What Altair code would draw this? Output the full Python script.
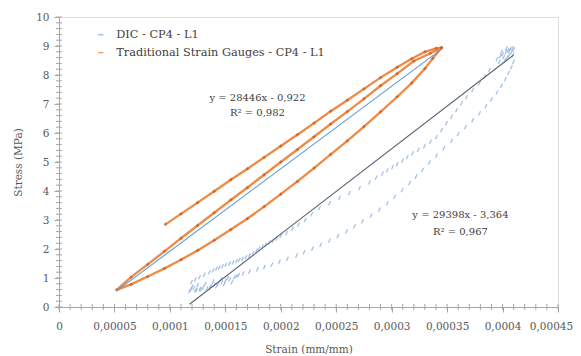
import altair as alt
import pandas as pd

# ---------------- data ----------------
series_names = ["DIC - CP4 - L1", "Traditional Strain Gauges - CP4 - L1"]

# Traditional strain gauges: one continuous path (top branch -> tip -> middle -> vertex -> bottom -> tip)
sg_strain = [
    0.0000960, 0.000110, 0.000125, 0.000140, 0.000155, 0.000170, 0.000185, 0.000200,
    0.000215, 0.000230, 0.000245, 0.000260, 0.000275, 0.000290, 0.000305, 0.000318,
    0.000330, 0.000340, 0.000345,
    0.000335, 0.000320, 0.000305, 0.000290, 0.000275, 0.000260, 0.000245, 0.000230,
    0.000215, 0.000200, 0.000185, 0.000170, 0.000155, 0.000140, 0.000125, 0.000110,
    0.000095, 0.000080, 0.000065, 0.000052,
    0.000065, 0.000080, 0.000095, 0.000110, 0.000125, 0.000140, 0.000155, 0.000170,
    0.000185, 0.000200, 0.000215, 0.000230, 0.000245, 0.000260, 0.000275, 0.000290,
    0.000305, 0.000318, 0.000330, 0.000337, 0.000345,
]
sg_stress = [
    2.85, 3.21, 3.60, 3.99, 4.39, 4.77, 5.16, 5.55,
    5.94, 6.34, 6.75, 7.13, 7.52, 7.91, 8.27, 8.56,
    8.80, 8.92, 8.94,
    8.75, 8.48, 8.05, 7.63, 7.18, 6.74, 6.31, 5.87,
    5.43, 5.00, 4.56, 4.12, 3.69, 3.25, 2.81, 2.37,
    1.92, 1.47, 1.03, 0.59,
    0.78, 1.05, 1.33, 1.63, 1.95, 2.30, 2.67, 3.05,
    3.46, 3.89, 4.33, 4.79, 5.26, 5.73, 6.22, 6.73,
    7.25, 7.72, 8.22, 8.57, 8.94,
]

# DIC measurements (scattered markers)
dic_strain = [
    # lower-left dense cluster
    0.0001177, 0.0001190, 0.0001215, 0.0001240, 0.0001270, 0.0001300, 0.0001335, 0.0001370,
    0.0001400, 0.0001435, 0.0001470, 0.0001500, 0.0001540, 0.0001580, 0.0001620, 0.0001660,
    0.0001200, 0.0001250, 0.0001320, 0.0001390, 0.0001460, 0.0001520, 0.0001600,
    0.0001230, 0.0001280, 0.0001360, 0.0001420, 0.0001490, 0.0001560,
    # loading branch
    0.0001718, 0.0001790, 0.0001853, 0.0001920, 0.0001988, 0.0002060, 0.0002142, 0.0002210,
    0.0002286, 0.0002360, 0.0002439, 0.0002515, 0.0002593, 0.0002665, 0.0002737, 0.0002815,
    0.0002890, 0.0002960, 0.0003026, 0.0003095, 0.0003161, 0.0003220, 0.0003278, 0.0003340,
    0.0003404, 0.0003470, 0.0003540, 0.0003600, 0.0003666, 0.0003730, 0.0003792, 0.0003850,
    0.0003900, 0.0003950, 0.0003990, 0.0004025, 0.0004054, 0.0004080, 0.0004099,
    # upper dense cluster
    0.0003950, 0.0003980, 0.0004000, 0.0004030, 0.0004050, 0.0004070, 0.0004090, 0.0004100,
    0.0004080, 0.0004060, 0.0004040, 0.0004020, 0.0003970, 0.0004010, 0.0004060, 0.0004095,
    0.0003990, 0.0004035,
    # unloading branch
    0.0003882, 0.0003840, 0.0003792, 0.0003730, 0.0003675, 0.0003630, 0.0003585, 0.0003540,
    0.0003494, 0.0003450, 0.0003404, 0.0003350, 0.0003296, 0.0003240, 0.0003188, 0.0003140,
    0.0003098, 0.0003050, 0.0003008, 0.0002960, 0.0002917, 0.0002860, 0.0002800, 0.0002710,
    0.0002619, 0.0002530, 0.0002440, 0.0002349, 0.0002280, 0.0002220, 0.0002160, 0.0002106,
    0.0002052, 0.0002000, 0.0001961, 0.0001930, 0.0001898, 0.0001865, 0.0001835, 0.0001805,
    0.0001781, 0.0001750, 0.0001718, 0.0001685, 0.0001655, 0.0001625, 0.0001600, 0.0001570,
    0.0001538, 0.0001505, 0.0001474, 0.0001445, 0.0001420, 0.0001390, 0.0001357, 0.0001310,
    0.0001267, 0.0001230, 0.0001195,
]
dic_stress = [
    0.55, 0.60, 0.65, 0.58, 0.62, 0.68, 0.64, 0.72,
    0.76, 0.80, 0.85, 0.90, 0.96, 1.02, 1.10, 1.16,
    0.70, 0.75, 0.80, 0.88, 0.95, 1.00, 1.06,
    0.57, 0.60, 0.67, 0.71, 0.79, 0.86,
    1.22, 1.30, 1.38, 1.46, 1.56, 1.66, 1.77, 1.89,
    2.01, 2.14, 2.29, 2.44, 2.61, 2.78, 2.95, 3.15,
    3.36, 3.57, 3.80, 4.03, 4.27, 4.50, 4.73, 4.98,
    5.22, 5.47, 5.73, 5.96, 6.20, 6.44, 6.68, 6.92,
    7.16, 7.40, 7.63, 7.86, 8.07, 8.27, 8.45,
    8.55, 8.65, 8.72, 8.80, 8.86, 8.90, 8.93, 8.88,
    8.78, 8.68, 8.60, 8.50, 8.45, 8.62, 8.82, 8.70,
    8.80, 8.92,
    8.17, 7.95, 7.72, 7.48, 7.24, 7.02, 6.79, 6.56,
    6.34, 6.10, 5.86, 5.70, 5.55, 5.42, 5.30, 5.17,
    5.05, 4.93, 4.82, 4.71, 4.60, 4.46, 4.30, 4.10,
    3.93, 3.76, 3.58, 3.41, 3.20, 3.00, 2.84, 2.70,
    2.55, 2.45, 2.36, 2.29, 2.22, 2.15, 2.08, 2.01,
    1.94, 1.86, 1.78, 1.72, 1.66, 1.62, 1.58, 1.54,
    1.50, 1.45, 1.40, 1.36, 1.32, 1.26, 1.20, 1.11,
    1.03, 0.95, 0.86,
]

# Trendlines (coefficients as printed on the chart)
trend_slope = [29398, 28446]
trend_intercept = [-3.364, -0.922]
trend_eq = ["y = 29398x - 3,364", "y = 28446x - 0,922"]
trend_r2 = ["R² = 0,967", "R² = 0,982"]
trend_colors = ["#59636E", "#5B9BD5"]

x_major = [0, 0.00005, 0.0001, 0.00015, 0.0002, 0.00025, 0.0003, 0.00035, 0.0004, 0.00045]
x_labels = ["0", "0,00005", "0,0001", "0,00015", "0,0002", "0,00025", "0,0003", "0,00035", "0,0004", "0,00045"]
y_major = [0, 1, 2, 3, 4, 5, 6, 7, 8, 9, 10]

# ---------------- build tables ----------------
sg = pd.DataFrame({"strain": sg_strain, "stress": sg_stress, "series": series_names[1]})
sg["idx"] = range(len(sg))
dic = pd.DataFrame({"strain": dic_strain, "stress": dic_stress, "series": series_names[0]})

trend_rows = []
for name, df, s, b in [(series_names[0], dic, trend_slope[0], trend_intercept[0]),
                       (series_names[1], sg, trend_slope[1], trend_intercept[1])]:
    for xv in (df["strain"].min(), df["strain"].max()):
        trend_rows.append({"series": name, "strain": xv, "stress": s * xv + b})
trend = pd.DataFrame(trend_rows)

x_minor = pd.DataFrame({"strain": [round(i * 0.00001, 5) for i in range(46)]})
y_minor = pd.DataFrame({"stress": [round(i * 0.2, 1) for i in range(51)]})

FONT = "DejaVu Serif"
AXIS_COL = "#A6A6A6"
x_label_expr = (f"indexof({x_major}, datum.value) >= 0 ? "
                f"{x_labels}[indexof({x_major}, datum.value)] : ''")

x_scale = alt.Scale(domain=[0, 0.00045], nice=False, zero=False)
y_scale = alt.Scale(domain=[0, 10], nice=False, zero=False)
color_scale = alt.Scale(domain=series_names, range=["#7FA8DC", "#ED7D31"])

x_axis = alt.Axis(values=x_major, labelExpr=x_label_expr, grid=False,
                  tickSize=5, labelPadding=9, titlePadding=13, labelOverlap=False, labelFlush=False,
                  labelOffset={"condition": {"test": f"datum.value == {x_major[-1]}", "value": -7},
                               "value": 0},
                  labelFont=FONT, labelFontSize=10.5, labelColor="#595959",
                  titleFont=FONT, titleFontSize=10.5, titleFontWeight="normal",
                  titleColor="#595959", domainColor=AXIS_COL, tickColor=AXIS_COL)
y_axis = alt.Axis(values=y_major, format="d", grid=False,
                  tickSize=5, labelPadding=5, titlePadding=12, labelOverlap=False, labelFlush=False,
                  labelFont=FONT, labelFontSize=10.5, labelColor="#595959",
                  titleFont=FONT, titleFontSize=10.5, titleFontWeight="normal",
                  titleColor="#595959", domainColor=AXIS_COL, tickColor=AXIS_COL)


def X():
    return alt.X("strain:Q", scale=x_scale, title="Strain (mm/mm)", axis=x_axis)


def Y():
    return alt.Y("stress:Q", scale=y_scale, title="Stress (MPa)", axis=y_axis)


legend = alt.Legend(title=None, orient="none", legendX=36, legendY=12, symbolType="stroke",
                    symbolSize=30, symbolStrokeWidth=1.5, labelFont=FONT, labelFontSize=11.3,
                    labelColor="#404040", rowPadding=6, padding=0, labelOffset=10, labelLimit=400)

dic_layer = alt.Chart(dic).mark_point(shape="stroke", angle=295, size=22, strokeWidth=1.3,
                                      filled=False, opacity=0.7).encode(
    x=X(), y=Y(), color=alt.Color("series:N", scale=color_scale, legend=legend))

sg_line = alt.Chart(sg).mark_line(strokeWidth=2.3, opacity=0.9).encode(
    x=X(), y=Y(), order="idx:Q",
    color=alt.Color("series:N", scale=color_scale, legend=legend))
sg_pts = alt.Chart(sg).mark_point(shape="diamond", filled=True, size=14, color="#C9591A").encode(
    x=X(), y=Y())

trend_layer = alt.Chart(trend).mark_line(strokeWidth=1.1).encode(
    x=X(), y=Y(), detail="series:N",
    stroke=alt.Stroke("series:N", scale=alt.Scale(domain=series_names, range=trend_colors), legend=None))

ann = pd.DataFrame({
    "strain": [0.000362, 0.000362, 0.0001790, 0.0001790],
    "stress": [3.17, 2.59, 7.21, 6.69],
    "text": [trend_eq[0], trend_r2[0], trend_eq[1], trend_r2[1]],
})
ann_layer = alt.Chart(ann).mark_text(font=FONT, fontSize=10, color="#404040", align="center").encode(
    x=X(), y=Y(), text="text:N")

# minor tick marks crossing the axes
x_minor_layer = alt.Chart(x_minor).mark_rule(color=AXIS_COL, strokeWidth=1).encode(
    x=X(), y=alt.value(287), y2=alt.value(293))
y_minor_layer = alt.Chart(y_minor).mark_rule(color=AXIS_COL, strokeWidth=1).encode(
    y=Y(), x=alt.value(-3), x2=alt.value(3))

chart = alt.layer(dic_layer, sg_line, sg_pts, trend_layer, ann_layer,
                  x_minor_layer, y_minor_layer).properties(
    width=499, height=290,
    autosize=alt.AutoSizeParams(type="none"),
    padding={"left": 51, "top": 9, "right": 15, "bottom": 47},
).configure_view(stroke="#C8C8C8", strokeWidth=1).configure_axis(
    labelOverlap=False, labelFlush=False
).configure(background="white")

chart.save("out.html", embed_options={"renderer": "svg", "actions": False})
